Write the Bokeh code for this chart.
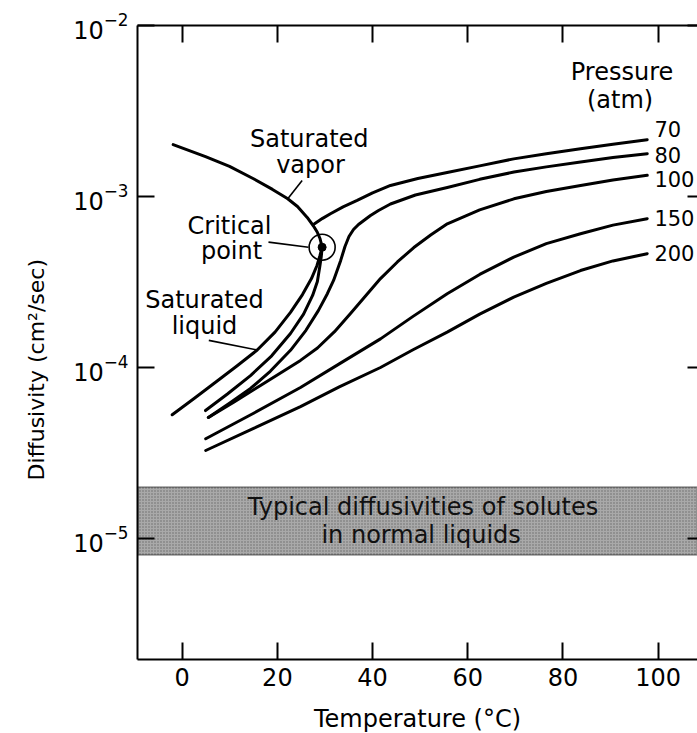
from bokeh.plotting import figure
from bokeh.models import (Range1d, LinearAxis, LogAxis, FixedTicker, BoxAnnotation,
                          Title, CustomJSTickFormatter)
from bokeh.core.properties import value
from bokeh.embed import file_html
from bokeh.resources import INLINE

FONT = "DejaVu Sans"

# ---------------- data ----------------
x_ticks = [0, 20, 40, 60, 80, 100]
y_ticks = [1e-5, 1e-4, 1e-3, 1e-2]

# Saturated vapor branch (temperature degC, diffusivity cm2/s)
sat_vap_T = [-1.9, 4.9, 9.94, 14.98, 18.97, 22.1, 24.22, 26.26, 27.58, 28.36, 28.95, 29.4]
sat_vap_D = [2.01e-3, 1.71e-3, 1.50e-3, 1.27e-3, 1.10e-3, 9.73e-4, 8.74e-4, 7.54e-4,
             6.72e-4, 6.20e-4, 5.68e-4, 5.05e-4]

# Saturated liquid branch
sat_liq_T = [-2.1, 2.5, 7.35, 11.49, 15.76, 19.5, 22.75, 25.27, 27.16, 28.32, 28.95, 29.4]
sat_liq_D = [5.29e-5, 6.59e-5, 8.33e-5, 1.02e-4, 1.265e-4, 1.61e-4, 2.10e-4, 2.67e-4,
             3.31e-4, 3.95e-4, 4.52e-4, 5.05e-4]

# 70 atm: liquid part and vapor part
p70_liq_T = [4.9, 9.5, 14.35, 18.8, 22.75, 25.5, 27.4, 28.4, 28.91, 29.22, 29.4]
p70_liq_D = [5.6e-5, 7.0e-5, 8.97e-5, 1.17e-4, 1.58e-4, 2.05e-4, 2.64e-4, 3.18e-4,
             3.90e-4, 4.46e-4, 5.05e-4]
p70_vap_T = [27.8, 29.5, 31.15, 33.8, 36.76, 40.0, 43.76, 49.5, 55.67, 62.5, 69.66,
             76.5, 83.68, 90.5, 97.69]
p70_vap_D = [6.92e-4, 7.45e-4, 7.93e-4, 8.7e-4, 9.48e-4, 1.05e-3, 1.16e-3, 1.274e-3,
             1.38e-3, 1.51e-3, 1.66e-3, 1.78e-3, 1.90e-3, 2.02e-3, 2.15e-3]

p80_T = [5.5, 10.0, 14.35, 18.5, 22.75, 26.0, 28.6, 30.5, 31.8, 33.3, 34.2, 35.04,
         35.99, 37.04, 38.09, 39.56, 41.24, 43.76, 49.0, 55.7, 62.5, 69.7, 76.5, 83.7,
         90.5, 97.7]
p80_D = [5.1e-5, 6.2e-5, 7.54e-5, 9.5e-5, 1.26e-4, 1.65e-4, 2.15e-4, 2.7e-4, 3.23e-4,
         4.23e-4, 5.10e-4, 5.83e-4, 6.41e-4, 6.86e-4, 7.22e-4, 7.74e-4, 8.28e-4, 9.04e-4,
         1.02e-3, 1.13e-3, 1.26e-3, 1.39e-3, 1.49e-3, 1.59e-3, 1.69e-3, 1.78e-3]

p100_T = [5.5, 11.0, 16.45, 22.5, 24.85, 28.42, 32.0, 35.36, 38.51, 41.66, 45.21, 48.66,
          52.2, 55.7, 62.5, 69.7, 76.5, 83.7, 90.5, 97.7]
p100_D = [5.1e-5, 6.3e-5, 7.85e-5, 1.0e-4, 1.10e-4, 1.30e-4, 1.62e-4, 2.07e-4, 2.62e-4,
          3.31e-4, 4.14e-4, 5.03e-4, 5.95e-4, 6.92e-4, 8.35e-4, 9.69e-4, 1.07e-3,
          1.16e-3, 1.25e-3, 1.33e-3]

p150_T = [4.94, 15.0, 24.85, 33.0, 41.66, 48.5, 55.67, 62.5, 69.66, 76.5, 83.68, 90.5, 97.69]
p150_D = [3.83e-5, 5.4e-5, 7.64e-5, 1.05e-4, 1.47e-4, 1.99e-4, 2.70e-4, 3.5e-4,
          4.42e-4, 5.3e-4, 6.05e-4, 6.8e-4, 7.42e-4]

p200_T = [4.94, 15.0, 24.85, 33.0, 41.66, 48.5, 55.67, 62.5, 69.66, 76.5, 83.68, 90.5, 97.69]
p200_D = [3.27e-5, 4.4e-5, 5.91e-5, 7.7e-5, 1.0e-4, 1.27e-4, 1.61e-4, 2.05e-4,
          2.58e-4, 3.1e-4, 3.69e-4, 4.2e-4, 4.63e-4]

# critical point
cp_T = [29.4]
cp_D = [5.05e-4]

# band of typical liquid diffusivities
band_low = 8e-6
band_high = 2e-5
band_text = ["Typical diffusivities of solutes", "in normal liquids"]
band_text_T = [50.6, 50.2]
band_text_D = [1.52e-5, 1.05e-5]

# text annotations
annot_text = ["Saturated", "vapor", "Critical", "point", "Saturated", "liquid",
              "Pressure", "(atm)"]
annot_T = [26.7, 26.95, 9.94, 10.36, 4.68, 4.68, 92.4, 92.0]
annot_D = [2.18e-3, 1.52e-3, 6.76e-4, 4.83e-4, 2.47e-4, 1.76e-4, 5.38e-3, 3.69e-3]

pressure_labels = ["70", "80", "100", "150", "200"]
pressure_label_T = [99.2, 99.2, 99.2, 99.2, 99.2]
pressure_label_D = [2.47e-3, 1.76e-3, 1.27e-3, 7.53e-4, 4.65e-4]

# leader lines (from label to curve)
lead_T0 = [25.2, 18.13, 5.59]
lead_D0 = [1.24e-3, 5.41e-4, 1.44e-4]
lead_T1 = [22.06, 26.53, 15.76]
lead_D1 = [9.6e-4, 5.05e-4, 1.265e-4]

x_label = "Temperature (°C)"
y_label = "Diffusivity (cm²/sec)"

# ---------------- figure ----------------
p = figure(frame_width=560, frame_height=634,
           x_range=Range1d(-9.39, 108.26), y_range=Range1d(1.96e-6, 1e-2),
           y_axis_type="log", output_backend="svg", toolbar_location=None,
           min_border_left=137, min_border_right=0, min_border_top=25,
           min_border_bottom=74, background_fill_color="white",
           border_fill_color="white", outline_line_color=None)
p.grid.visible = False

blank = CustomJSTickFormatter(code="return ''")

def style_axis(ax, tick_len=17):
    ax.major_tick_in = tick_len
    ax.major_tick_out = 0
    ax.minor_tick_line_color = None
    ax.major_tick_line_width = 2
    ax.major_tick_line_color = "black"
    ax.axis_line_width = 2
    ax.axis_line_color = "black"
    ax.major_label_text_font = FONT
    ax.major_label_text_font_size = "24px"
    ax.major_label_text_color = "black"

xa = p.xaxis[0]
xa.ticker = FixedTicker(ticks=x_ticks)
style_axis(xa)
xa.major_label_standoff = 8
xa.axis_label = x_label
xa.axis_label_text_font = FONT
xa.axis_label_text_font_size = "24px"
xa.axis_label_text_font_style = "normal"
xa.axis_label_text_color = "black"
xa.axis_label_standoff = 16

ya = p.yaxis[0]
ya.ticker = FixedTicker(ticks=y_ticks)
style_axis(ya)
ya.major_label_standoff = 9

top = LinearAxis(ticker=FixedTicker(ticks=x_ticks), formatter=blank)
style_axis(top)
top.major_label_standoff = 0
top.major_label_text_font_size = "0px"
p.add_layout(top, "above")

right = LogAxis(ticker=FixedTicker(ticks=y_ticks), formatter=blank)
style_axis(right, tick_len=10)
right.axis_line_color = None
right.major_label_standoff = 0
right.major_label_text_font_size = "0px"
p.add_layout(right, "right")

# y axis title: starts 179 px above the frame bottom
p.add_layout(Title(text=y_label, align="left", offset=179, vertical_align="middle",
                   standoff=42, text_font=FONT, text_font_size="22px",
                   text_font_style="normal", text_color="black"), "left")

# band
p.add_layout(BoxAnnotation(bottom=band_low, top=band_high, fill_color="#a9a9a9",
                           fill_alpha=1.0, hatch_pattern=".", hatch_color="#505050",
                           hatch_alpha=0.7, hatch_scale=3, line_color="black",
                           line_width=2, level="underlay"))
p.text(x=band_text_T, y=band_text_D, text=band_text, text_font=value(FONT),
       text_font_size="24px", text_align="center", text_baseline="middle",
       text_color="#111111")

LW = 3
curves = [(sat_vap_T, sat_vap_D), (sat_liq_T, sat_liq_D), (p70_liq_T, p70_liq_D),
          (p70_vap_T, p70_vap_D), (p80_T, p80_D), (p100_T, p100_D),
          (p150_T, p150_D), (p200_T, p200_D)]
for xs, ys in curves:
    p.line(xs, ys, line_color="black", line_width=LW, line_join="round",
           line_cap="round")

p.segment(x0=lead_T0, y0=lead_D0, x1=lead_T1, y1=lead_D1, line_color="black",
          line_width=1.6)

p.scatter(cp_T, cp_D, size=26, fill_color=None, line_color="black", line_width=1.6)
p.scatter(cp_T, cp_D, size=8, fill_color="black", line_color="black")

p.text(x=annot_T, y=annot_D, text=annot_text, text_font=value(FONT),
       text_font_size="24px", text_align="center", text_baseline="middle",
       text_color="black")
p.text(x=pressure_label_T, y=pressure_label_D, text=pressure_labels,
       text_font=value(FONT), text_font_size="21px", text_align="left",
       text_baseline="middle", text_color="black")

open("out.html", "w").write(file_html(p, INLINE))
